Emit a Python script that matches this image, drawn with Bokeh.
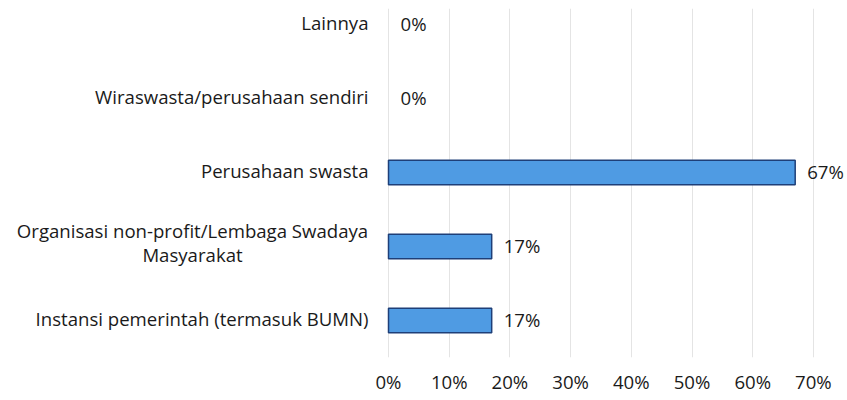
from bokeh.plotting import figure
from bokeh.models import ColumnDataSource, Range1d, FixedTicker, NumeralTickFormatter
from bokeh.core.properties import value
from bokeh.embed import file_html
from bokeh.resources import INLINE

categories = [
    "Instansi pemerintah (termasuk BUMN)",
    "Organisasi non-profit/Lembaga Swadaya\nMasyarakat",
    "Perusahaan swasta",
    "Wiraswasta/perusahaan sendiri",
    "Lainnya",
]
values = [0.17, 0.17, 0.67, 0.0, 0.0]
value_labels = ["17%", "17%", "67%", "0%", "0%"]
x_ticks = [0, 0.1, 0.2, 0.3, 0.4, 0.5, 0.6, 0.7]

FONT = "Open Sans"
FS = "18.6px"
TXT = "#1a1a1a"

PX_PER_UNIT = 607.0          # horizontal pixels per 100 %
LEFT_PX = 388                # space for the category labels
FRAME_W = 845
FRAME_H = 349
Y_PX = 74.0                  # pixels per category

pos = list(range(len(categories)))

p = figure(frame_width=FRAME_W, frame_height=FRAME_H,
           output_backend="svg", toolbar_location=None,
           x_range=Range1d(-LEFT_PX / PX_PER_UNIT, (FRAME_W - LEFT_PX) / PX_PER_UNIT),
           y_range=Range1d(-0.5, -0.5 + FRAME_H / Y_PX),
           min_border_left=0, min_border_right=0, min_border_top=8, min_border_bottom=10)
p.outline_line_color = None
p.background_fill_color = "white"

# grid lines only over the value area
p.xgrid.ticker = FixedTicker(ticks=x_ticks)
p.xgrid.grid_line_color = "#e4e4e4"
p.ygrid.grid_line_color = None

# bars
bars = [i for i, v in enumerate(values) if v > 0]
bsrc = ColumnDataSource(dict(y=[pos[i] for i in bars], v=[values[i] for i in bars]))
p.hbar(y="y", left=0, right="v", height=0.33, source=bsrc,
       fill_color="#4f9be3", line_color="#1e3f78", line_width=1.5)

# value labels
vsrc = ColumnDataSource(dict(y=pos, v=values, lab=value_labels))
p.text(x="v", y="y", text="lab", source=vsrc, x_offset=12, y_offset=-1,
       text_align="left", text_baseline="middle",
       text_font=value(FONT), text_font_size=FS, text_color=TXT)

# category labels (drawn as text; multi-line ones centred like the original)
cx, cy, ct, calign, cxo, cyo = [], [], [], [], [], []
for i, c in enumerate(categories):
    lines = c.split("\n")
    n = len(lines)
    for k, ln in enumerate(lines):
        cx.append(0)
        cy.append(pos[i])
        ct.append(ln)
        if n == 1:
            calign.append("right")
            cxo.append(-20)
            cyo.append(-2)
        else:
            calign.append("center")
            cxo.append(-196)
            cyo.append(-12 * (n - 1) + 24 * k - 4)
csrc = ColumnDataSource(dict(x=cx, y=cy, t=ct, al=calign, xo=cxo, yo=cyo))
p.text(x="x", y="y", text="t", source=csrc, x_offset="xo", y_offset="yo",
       text_align="al", text_baseline="middle",
       text_font=value(FONT), text_font_size=FS, text_color=TXT)

# axes
p.xaxis.ticker = FixedTicker(ticks=x_ticks)
p.xaxis.formatter = NumeralTickFormatter(format="0%")
p.yaxis.visible = False
ax = p.xaxis[0]
ax.axis_line_color = None
ax.major_tick_line_color = None
ax.minor_tick_line_color = None
ax.major_tick_out = 0
ax.major_tick_in = 0
ax.minor_tick_out = 0
ax.major_label_text_font = FONT
ax.major_label_text_font_size = FS
ax.major_label_text_color = TXT
ax.major_label_standoff = 11

open("out.html", "w").write(file_html(p, INLINE))
